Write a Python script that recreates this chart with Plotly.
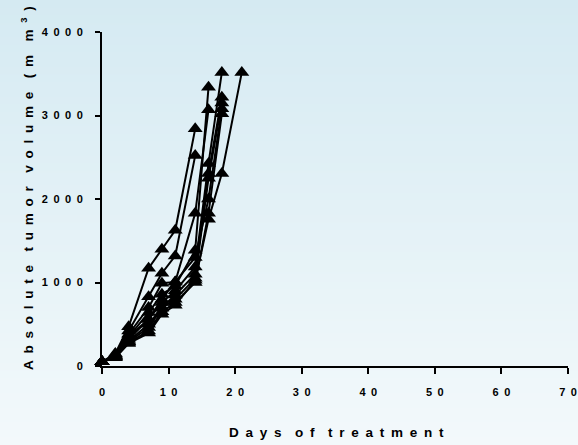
import base64, struct, zlib
import plotly.graph_objects as go

days = [0, 2, 4, 7, 9, 11, 14, 16, 18, 21]

mouse_1 = [50, 150, 470, 1171, 1398, 1625, 2840]
mouse_2 = [50, 140, 420, 828, 1111, 1318, 2520]
mouse_3 = [50, 130, 380, 700, 992, 1007, 1828, 3070]
mouse_4 = [50, 130, 350, 640, 860, 960, 1386, 3337]
mouse_5 = [50, 120, 320, 560, 760, 900, 1186, 2425, 3516]
mouse_6 = [50, 110, 300, 500, 700, 850, 1100, 2306, 3218]
mouse_7 = [50, 110, 290, 460, 693, 800, 1050, 2250, 3150]
mouse_8 = [50, 100, 280, 420, 650, 760, 1000, 1830, 3020]
mouse_9 = [50, 100, 270, 394, 620, 729, 1027, 1756, 2306, 3516]
mouse_10 = [50, 120, 350, 560, 800, 1007, 1300, 2000, 3080]
series = [mouse_1, mouse_2, mouse_3, mouse_4, mouse_5,
          mouse_6, mouse_7, mouse_8, mouse_9, mouse_10]

x_ticks = [0, 10, 20, 30, 40, 50, 60, 70]
y_ticks = [0, 1000, 2000, 3000, 4000]

SP = "\u2002"

def spaced(v):
    return SP.join(str(v))

def spaced_words(text):
    return (SP * 2).join(SP.join(w) for w in text.split(" "))

x_title = spaced_words("Days of treatment")
y_title = spaced_words("Absolute tumor volume (m m") + SP + "<sup>3</sup>" + SP + ")"

# gradient background png
W, H = 578, 445
top = (213, 234, 242)
bot = (243, 249, 251)
raw = b""
for r in range(H):
    t = r / (H - 1)
    c = bytes(int(round(top[i] + (bot[i] - top[i]) * t)) for i in range(3))
    raw += b"\x00" + c * 4
def chunk(tag, data):
    return struct.pack(">I", len(data)) + tag + data + struct.pack(">I", zlib.crc32(tag + data) & 0xffffffff)
png = b"\x89PNG\r\n\x1a\n" + chunk(b"IHDR", struct.pack(">IIBBBBB", 4, H, 8, 2, 0, 0, 0)) + \
      chunk(b"IDAT", zlib.compress(raw)) + chunk(b"IEND", b"")
uri = "data:image/png;base64," + base64.b64encode(png).decode()

L, R, T, B = 102, 10, 32, 79
pw, ph = W - L - R, H - T - B

fig = go.Figure()
for s in series:
    fig.add_trace(go.Scatter(
        x=days[:len(s)], y=s, mode="lines+markers",
        line=dict(color="black", width=2),
        marker=dict(symbol="triangle-up", size=13, color="black"),
        cliponaxis=False, showlegend=False, hoverinfo="skip"))

FAM = "Liberation Sans, Arial, sans-serif"
tickfont = dict(family=FAM, size=11, color="black", weight="bold")
titlefont = dict(family=FAM, size=13.5, color="black", weight="bold")
fig.update_layout(
    width=W, height=H,
    margin=dict(l=L, r=R, t=T, b=B, autoexpand=False),
    paper_bgcolor="rgba(0,0,0,0)", plot_bgcolor="rgba(0,0,0,0)",
    font=dict(family=FAM, size=11, color="black"),
    images=[dict(source=uri, xref="paper", yref="paper",
                 x=-L / pw, y=1 + T / ph, sizex=W / pw, sizey=H / ph,
                 sizing="stretch", layer="below", xanchor="left", yanchor="top")],
    xaxis=dict(range=[0, 70], tickvals=x_ticks, ticktext=[spaced(v) for v in x_ticks],
               automargin=False, ticklabeloverflow="allow",
               showgrid=False, zeroline=False, showline=True, linecolor="black", linewidth=2,
               ticks="outside", ticklen=6, tickwidth=2, tickcolor="black",
               ticklabelstandoff=9, tickfont=tickfont),
    yaxis=dict(range=[0, 4000], tickvals=y_ticks, ticktext=[spaced(v) for v in y_ticks],
               automargin=False, ticklabeloverflow="allow",
               showgrid=False, zeroline=False, showline=True, linecolor="black", linewidth=2,
               ticks="outside", ticklen=5, tickwidth=2, tickcolor="black",
               ticklabelstandoff=10, tickfont=tickfont),
    annotations=[
        dict(text=x_title, font=titlefont, showarrow=False,
             xref="paper", yref="paper", x=(336 - L) / pw, y=-(432 - T - ph) / ph,
             xanchor="center", yanchor="middle"),
        dict(text=y_title, font=titlefont, showarrow=False, textangle=-90,
             xref="paper", yref="paper", x=(27 - L) / pw, y=1 - (188 - T) / ph,
             xanchor="center", yanchor="middle"),
    ],
)
fig.write_html("out.html", config={"displayModeBar": False},
               post_script="document.body.style.margin='0';")
